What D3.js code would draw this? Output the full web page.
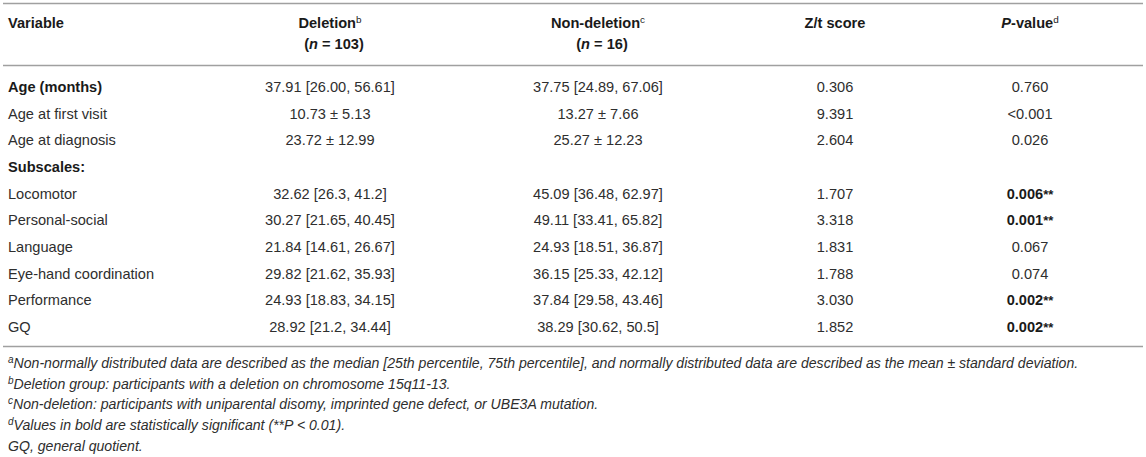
<!DOCTYPE html>
<html>
<head>
<meta charset="utf-8">
<script src="https://cdn.jsdelivr.net/npm/d3@7"></script>
<style>
  html, body { margin: 0; padding: 0; background: #fff; }
  svg { display: block; font-family: "Liberation Sans", Arial, Helvetica, sans-serif; }
</style>
</head>
<body>
<svg id="chart" width="1146" height="457"></svg>
<script>
// ---- data ----
const columns = ["Variable", "Deletion", "Non-deletion", "Z/t score", "P-value"];
const columnSup = ["", "b", "c", "", "d"];
const columnN = ["", "103", "16", "", ""];

const variables = ["Age (months)", "Age at first visit", "Age at diagnosis", "Subscales:",
  "Locomotor", "Personal-social", "Language", "Eye-hand coordination", "Performance", "GQ"];
const boldVariable = [true, false, false, true, false, false, false, false, false, false];
const deletion = ["37.91 [26.00, 56.61]", "10.73 ± 5.13", "23.72 ± 12.99", "",
  "32.62 [26.3, 41.2]", "30.27 [21.65, 40.45]", "21.84 [14.61, 26.67]", "29.82 [21.62, 35.93]",
  "24.93 [18.83, 34.15]", "28.92 [21.2, 34.44]"];
const nonDeletion = ["37.75 [24.89, 67.06]", "13.27 ± 7.66", "25.27 ± 12.23", "",
  "45.09 [36.48, 62.97]", "49.11 [33.41, 65.82]", "24.93 [18.51, 36.87]", "36.15 [25.33, 42.12]",
  "37.84 [29.58, 43.46]", "38.29 [30.62, 50.5]"];
const zScore = ["0.306", "9.391", "2.604", "", "1.707", "3.318", "1.831", "1.788", "3.030", "1.852"];
const pValue = ["0.760", "<0.001", "0.026", "", "0.006", "0.001", "0.067", "0.074", "0.002", "0.002"];
const significant = [false, false, false, false, true, true, false, false, true, true];

const footSup = ["a", "b", "c", "d", ""];
const footText = [
  "Non-normally distributed data are described as the median [25th percentile, 75th percentile], and normally distributed data are described as the mean ± standard deviation.",
  "Deletion group: participants with a deletion on chromosome 15q11-13.",
  "Non-deletion: participants with uniparental disomy, imprinted gene defect, or UBE3A mutation.",
  "Values in bold are statistically significant (**P < 0.01).",
  "GQ, general quotient."
];

// ---- layout ----
const svg = d3.select("#chart");
const textColor = "#2e2e2e";
const boldColor = "#1a1a1a";
const lineColor = "#a0a0a0";
const fs = 14.6;
const ffs = 14.1;

const colX = d3.scaleOrdinal().domain(columns).range([8, 330, 598, 835, 1030]);
const colAnchor = d3.scaleOrdinal().domain(columns).range(["start", "middle", "middle", "middle", "middle"]);

const rowY = d3.scalePoint().domain(d3.range(variables.length)).range([87, 327]);
const footY = d3.scalePoint().domain(d3.range(footText.length)).range([363, 446]);
const mid = s => s * 0.35; // shift from vertical center to baseline

// rules
const rules = [3.5, 65.5, 346.5];
svg.selectAll("line.rule").data(rules).join("line")
  .attr("class", "rule")
  .attr("x1", 3).attr("x2", 1143)
  .attr("y1", d => d).attr("y2", d => d)
  .attr("stroke", lineColor).attr("stroke-width", 1.6);

// header
const header = svg.append("g").attr("fill", boldColor).attr("font-weight", "bold").attr("font-size", fs);
columns.forEach((c, i) => {
  const t = header.append("text")
    .attr("x", colX(c)).attr("y", 23 + mid(fs))
    .attr("text-anchor", colAnchor(c));
  if (c === "P-value") {
    t.append("tspan").attr("font-style", "italic").text("P");
    t.append("tspan").text("-value");
  } else {
    t.append("tspan").text(c);
  }
  if (columnSup[i]) {
    t.append("tspan").attr("font-size", fs * 0.68).attr("font-weight", "normal")
      .attr("dy", -5.5).text(columnSup[i]);
  }
  if (columnN[i]) {
    const t2 = header.append("text")
      .attr("x", colX(c) + 4).attr("y", 44 + mid(fs))
      .attr("text-anchor", "middle");
    t2.append("tspan").text("(");
    t2.append("tspan").attr("font-style", "italic").text("n");
    t2.append("tspan").text(" = " + columnN[i] + ")");
  }
});

// body
const body = svg.append("g").attr("font-size", fs).attr("fill", textColor);
const rows = body.selectAll("g.row").data(variables).join("g").attr("class", "row")
  .attr("transform", (d, i) => `translate(0,${rowY(i) + mid(fs)})`);

rows.append("text")
  .attr("x", colX("Variable"))
  .attr("font-weight", (d, i) => boldVariable[i] ? "bold" : "normal")
  .attr("fill", (d, i) => boldVariable[i] ? boldColor : textColor)
  .text(d => d);

const cellCols = [["Deletion", deletion], ["Non-deletion", nonDeletion], ["Z/t score", zScore]];
cellCols.forEach(([c, arr]) => {
  rows.append("text")
    .attr("x", colX(c)).attr("text-anchor", "middle")
    .text((d, i) => arr[i]);
});

const pt = rows.append("text")
  .attr("x", colX("P-value")).attr("text-anchor", "middle")
  .attr("font-weight", (d, i) => significant[i] ? "bold" : "normal")
  .attr("fill", (d, i) => significant[i] ? boldColor : textColor);
pt.append("tspan").text((d, i) => pValue[i]);
pt.filter((d, i) => significant[i]).append("tspan").attr("font-size", fs * 0.9).text("**");

// footnotes
const foot = svg.append("g").attr("font-size", ffs).attr("font-style", "italic").attr("fill", textColor);
footText.forEach((txt, i) => {
  const t = foot.append("text").attr("x", 8).attr("y", footY(i) + mid(ffs));
  if (footSup[i]) {
    t.append("tspan").attr("font-size", 10).attr("dy", -5).text(footSup[i]);
    t.append("tspan").attr("dy", 5).text(txt);
  } else {
    t.append("tspan").text(txt);
  }
});
</script>
</body>
</html>
